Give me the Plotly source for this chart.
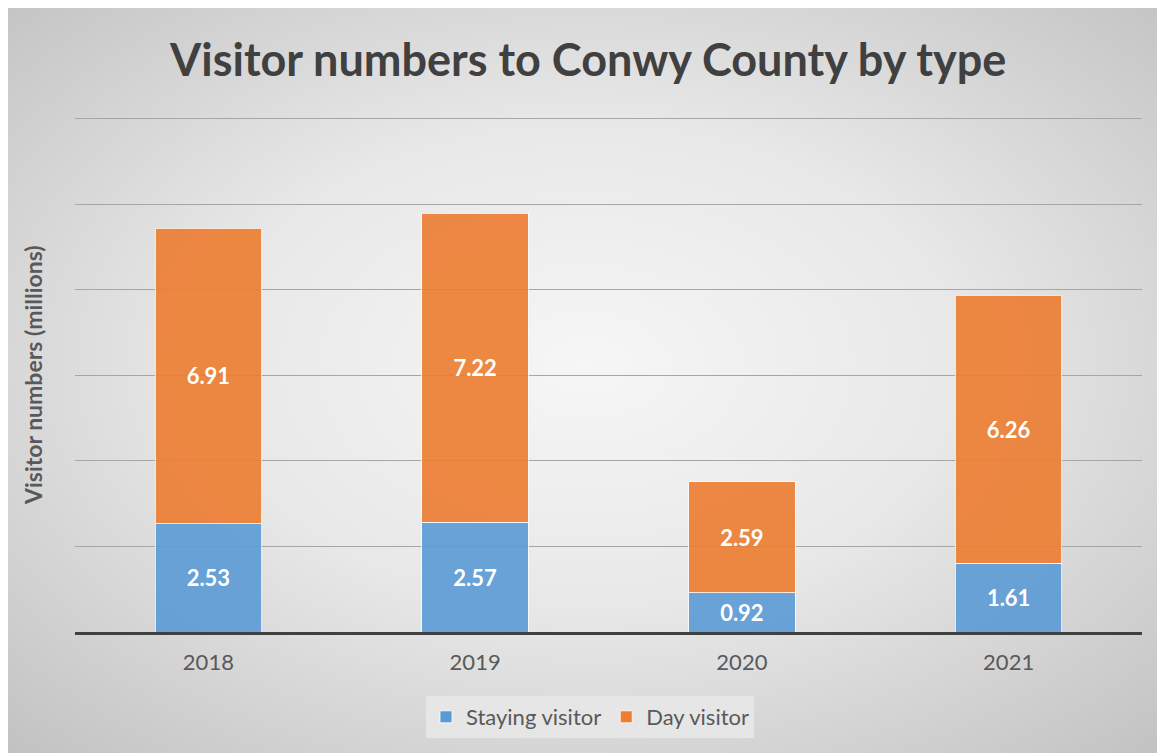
import base64
import plotly.graph_objects as go

years = ["2018", "2019", "2020", "2021"]
staying = [2.53, 2.57, 0.92, 1.61]
day = [6.91, 7.22, 2.59, 6.26]

W, H = 1157, 745
L, R, T, B = 67, 23, 109, 121
pw, ph = W - L - R, H - T - B
YMAX = 12.04

svg = ("<svg xmlns='http://www.w3.org/2000/svg' width='1157' height='745' preserveAspectRatio='none'>"
       "<defs><radialGradient id='g' cx='50%' cy='48%' r='72%'>"
       "<stop offset='0' stop-color='#f6f6f6'/><stop offset='0.45' stop-color='#e8e8e8'/>"
       "<stop offset='1' stop-color='#c2c2c2'/></radialGradient></defs>"
       "<rect width='100%' height='100%' fill='url(#g)'/></svg>")
src = "data:image/svg+xml;base64," + base64.b64encode(svg.encode()).decode()

label_font = dict(family="Lato", size=22, color="white", weight="bold")

fig = go.Figure()
fig.add_bar(x=years, y=staying, name="Staying visitor",
            marker=dict(color="#5B9BD5", opacity=0.9, line=dict(color="rgba(255,255,255,0.8)", width=1)),
            text=[f"{v:.2f}" for v in staying], textposition="inside", insidetextanchor="middle",
            textfont=label_font, constraintext="none")
fig.add_bar(x=years, y=day, name="Day visitor",
            marker=dict(color="#ED7D31", opacity=0.9, line=dict(color="rgba(255,255,255,0.8)", width=1)),
            text=[f"{v:.2f}" for v in day], textposition="inside", insidetextanchor="middle",
            textfont=label_font, constraintext="none")

fig.update_layout(
    width=W, height=H, barmode="stack", bargap=0.6,
    margin=dict(l=L, r=R, t=T, b=B, pad=0),
    paper_bgcolor="#dcdcdc", plot_bgcolor="rgba(0,0,0,0)",
    font=dict(family="Lato", color="#595959"),
    showlegend=True,
    legend=dict(orientation="h", x=(582 - L) / pw, y=(624 - 709) / ph, xanchor="center", yanchor="middle",
                bgcolor="#e6e6e6", font=dict(size=22, color="#595959"), traceorder="normal",
                itemwidth=30),
    images=[dict(source=src, xref="paper", yref="paper", x=-L / pw, y=1 + T / ph,
                 sizex=W / pw, sizey=H / ph, sizing="stretch", layer="below",
                 xanchor="left", yanchor="top")],
    xaxis=dict(showline=True, linecolor="#404040", linewidth=2.5, ticks="outside", ticklen=9,
               tickcolor="rgba(0,0,0,0)", showgrid=False,
               tickfont=dict(size=22, color="#595959")),
    yaxis=dict(range=[0, YMAX], dtick=2, showticklabels=False, gridcolor="#a6a6a6", gridwidth=1,
               zeroline=False, showline=False),
    annotations=[
        dict(text="Visitor numbers to Conwy County by type", xref="paper", yref="paper",
             x=(579 - L) / pw, y=(624 - 51) / ph, xanchor="center", yanchor="middle", showarrow=False,
             font=dict(family="Lato", size=45, color="#404040", weight="bold")),
        dict(text="Visitor numbers (millions)", xref="paper", yref="paper", textangle=-90,
             x=(25 - L) / pw, y=(624 - 367) / ph, xanchor="center", yanchor="middle", showarrow=False,
             font=dict(family="Lato", size=23, color="#595959", weight="bold")),
    ],
)
fig.write_html("out.html")
